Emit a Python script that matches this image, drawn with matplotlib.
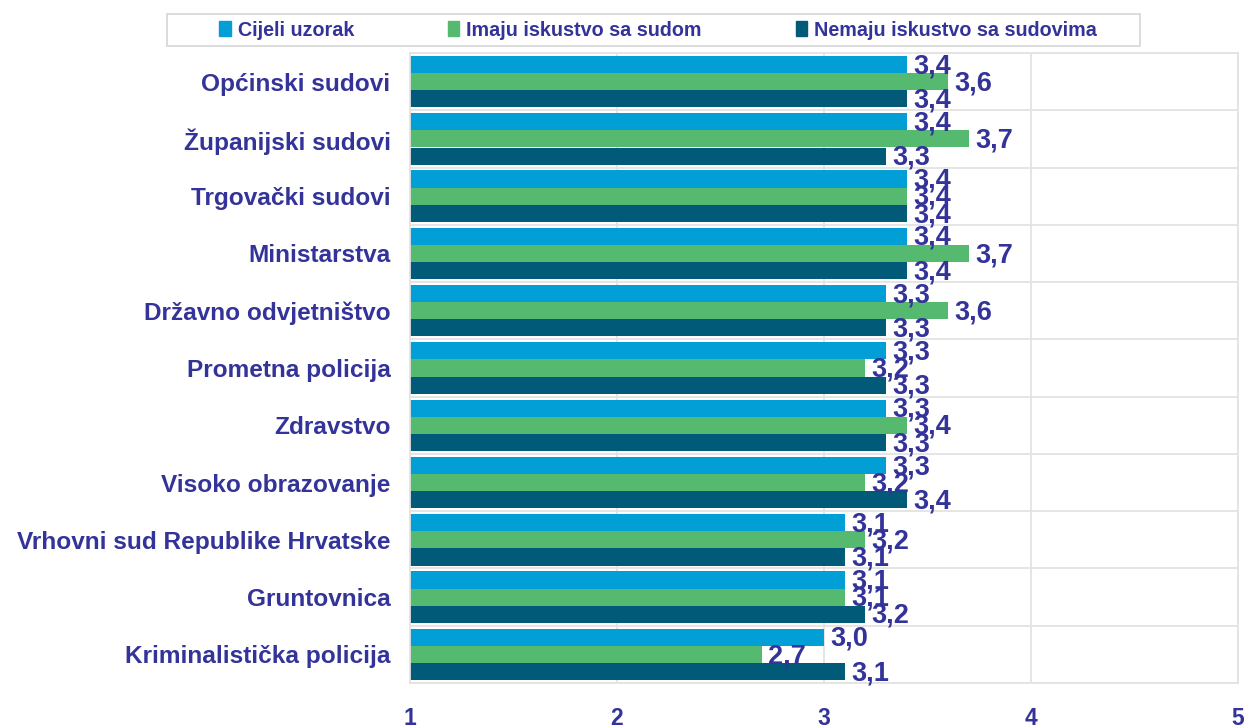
import numpy as np
import matplotlib.pyplot as plt
from matplotlib.patches import Patch, Rectangle

categories = ["Općinski sudovi", "Županijski sudovi", "Trgovački sudovi", "Ministarstva",
              "Državno odvjetništvo", "Prometna policija", "Zdravstvo", "Visoko obrazovanje",
              "Vrhovni sud Republike Hrvatske", "Gruntovnica", "Kriminalistička policija"]
cijeli = [3.4, 3.4, 3.4, 3.4, 3.3, 3.3, 3.3, 3.3, 3.1, 3.1, 3.0]
imaju = [3.6, 3.7, 3.4, 3.7, 3.6, 3.2, 3.4, 3.2, 3.2, 3.1, 2.7]
nemaju = [3.4, 3.3, 3.4, 3.4, 3.3, 3.3, 3.3, 3.4, 3.1, 3.2, 3.1]
series_names = ["Cijeli uzorak", "Imaju iskustvo sa sudom", "Nemaju iskustvo sa sudovima"]
x_ticks = [1, 2, 3, 4, 5]

colors = ["#029ED6", "#55BA6F", "#005A78"]
txt_color = "#333399"
grid_color = "#E3E3E3"
plt.rcParams['font.family'] = ['Liberation Sans', 'DejaVu Sans']
plt.rcParams['font.weight'] = 'bold'

fig = plt.figure(figsize=(12.47, 7.28), dpi=100)
ax = fig.add_axes([410/1247, 1 - 683/728, 828/1247, 630/728])

y = np.arange(len(categories))
h = 0.3
for k, (vals, off) in enumerate(zip([cijeli, imaju, nemaju], [-h, 0, h])):
    ax.barh(y + off, np.array(vals) - 1, left=1, height=h, color=colors[k], zorder=2)
    for yi, v in zip(y, vals):
        ax.text(v + 0.03, yi + off + 0.03, f"{v:.1f}".replace(".", ","), va='center', ha='left',
                fontsize=19.5, fontweight='bold', color=txt_color, zorder=3)

ax.set_xlim(1, 5)
ax.set_ylim(len(categories) - 0.5, -0.5)
ax.set_xticks(x_ticks)
ax.set_xticklabels([str(t) for t in x_ticks], fontsize=16.5, fontweight='bold', color=txt_color)
ax.set_yticks(y)
ax.set_yticklabels(categories, fontsize=17.6, fontweight='bold', color=txt_color)
ax.set_yticks(np.arange(-0.5, len(categories)), minor=True)
ax.tick_params(axis='x', length=0, pad=17)
ax.tick_params(axis='y', which='both', length=0, pad=14)
ax.grid(True, axis='x', color=grid_color, linewidth=1.3, zorder=0)
ax.grid(True, axis='y', which='minor', color=grid_color, linewidth=1.3, zorder=0)
for s in ax.spines.values():
    s.set_color(grid_color)
    s.set_linewidth(1.3)

handles = [Patch(color=c) for c in colors]
fig.legend(handles, series_names, loc='center', bbox_to_anchor=(658/1247, 1 - 30/728), ncol=3,
           frameon=False, handlelength=0.6, handleheight=0.8, handletextpad=0.35,
           columnspacing=4.75, labelcolor=txt_color, prop={'weight': 'bold', 'size': 14.2})
fig.patches.append(Rectangle((167/1247, 1 - 46/728), (1140 - 167)/1247, 32/728,
                             transform=fig.transFigure, fill=False, edgecolor='#D9D9D9', linewidth=1.3))

fig.savefig("out.png", dpi=100)
